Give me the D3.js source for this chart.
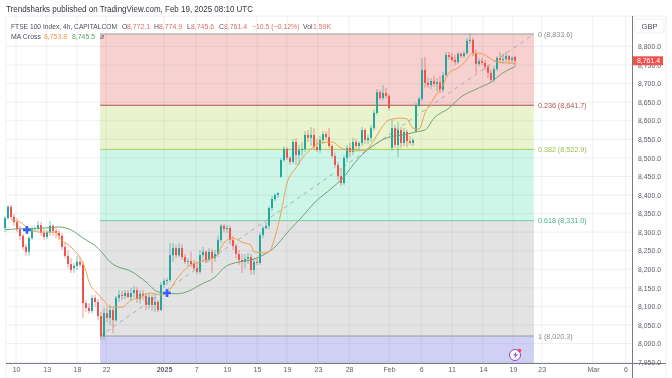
<!DOCTYPE html>
<html>
<head>
<meta charset="utf-8">
<script src="https://cdn.jsdelivr.net/npm/d3@7"></script>
<style>
  html, body { margin: 0; padding: 0; background: #fff; }
  text { font-family: "Liberation Sans", sans-serif; }
  svg { filter: blur(0.3px); }
</style>
</head>
<body>
<div id="chart"></div>
<script>
// FTSE 100 4h candles, one entry per bar
const opens = [8311,8338,8368,8341,8327,8308,8290,8260,8247,8284,8308,8311,8319,8298,8287,8300,8317,8303,8298,8290,
  8260,8236,8214,8203,8209,8220,8212,8109,8096,8088,8123,8112,8074,8020,8082,8069,8090,8063,8123,8131,
  8128,8136,8125,8136,8144,8120,8134,8128,8104,8125,8104,8112,8090,8158,8169,8171,8238,8257,8238,8257,
  8233,8220,8222,8214,8203,8193,8238,8247,8225,8247,8230,8241,8279,8317,8308,8311,8279,8263,8241,8225,
  8220,8228,8233,8198,8220,8217,8292,8311,8317,8365,8389,8400,8449,8494,8524,8500,8489,8543,8508,8521,
  8524,8562,8554,8562,8529,8521,8548,8564,8556,8532,8505,8481,8451,8432,8500,8527,8516,8543,8532,8540,
  8575,8548,8554,8580,8621,8677,8661,8675,8667,8527,8580,8535,8575,8540,8570,8545,8540,8572,8642,8659,
  8737,8702,8696,8707,8699,8704,8683,8723,8777,8772,8764,8758,8780,8774,8782,8815,8818,8782,8753,8761,
  8756,8745,8729,8710,8739,8769,8764,8766,8774,8764,8772];
const highs = [8343,8373,8373,8349,8338,8316,8295,8268,8290,8317,8317,8330,8327,8308,8306,8330,8322,8311,8306,8298,
  8271,8252,8230,8217,8236,8233,8222,8117,8109,8131,8131,8120,8085,8096,8098,8104,8096,8128,8144,8142,
  8144,8144,8150,8155,8152,8144,8144,8136,8134,8131,8136,8117,8166,8174,8177,8271,8271,8265,8271,8268,
  8241,8230,8247,8225,8220,8252,8260,8252,8257,8255,8252,8290,8322,8322,8319,8317,8290,8268,8252,8241,
  8241,8244,8241,8230,8228,8300,8317,8327,8370,8397,8405,8408,8500,8532,8529,8505,8551,8554,8535,8543,
  8572,8575,8583,8580,8551,8559,8572,8572,8580,8537,8513,8489,8473,8508,8535,8540,8554,8551,8545,8583,
  8580,8562,8589,8629,8685,8683,8696,8688,8672,8602,8589,8597,8583,8580,8575,8559,8554,8648,8664,8769,
  8772,8715,8715,8721,8715,8721,8731,8785,8785,8782,8777,8785,8785,8788,8823,8836,8823,8791,8769,8769,
  8764,8750,8737,8747,8774,8785,8780,8785,8777,8774,8775];
const lows = [8300,8333,8335,8317,8300,8279,8252,8236,8236,8279,8300,8303,8290,8279,8282,8290,8290,8284,8279,8252,
  8230,8203,8190,8190,8198,8206,8069,8085,8080,8082,8098,8063,8010,8010,8058,8050,8028,8058,8112,8117,
  8120,8123,8115,8125,8109,8107,8117,8090,8093,8088,8085,8085,8088,8150,8158,8166,8220,8230,8233,8225,
  8214,8209,8206,8198,8187,8187,8220,8217,8220,8190,8220,8233,8271,8300,8298,8268,8252,8230,8212,8190,
  8203,8214,8185,8185,8212,8212,8284,8306,8308,8357,8384,8392,8446,8489,8494,8481,8484,8481,8481,8505,
  8516,8543,8532,8521,8516,8513,8537,8548,8527,8500,8473,8440,8424,8427,8489,8502,8508,8521,8521,8532,
  8537,8537,8543,8575,8616,8656,8656,8661,8629,8519,8527,8502,8527,8532,8529,8535,8532,8567,8637,8653,
  8688,8688,8685,8691,8680,8675,8677,8718,8764,8758,8750,8753,8769,8769,8777,8807,8774,8729,8747,8750,
  8737,8715,8704,8704,8734,8758,8753,8758,8753,8756,8746];
const closes = [8338,8368,8341,8327,8308,8290,8260,8247,8284,8308,8311,8319,8298,8287,8300,8317,8303,8298,8290,8260,
  8236,8214,8198,8209,8220,8212,8109,8096,8088,8123,8112,8074,8020,8082,8069,8090,8063,8123,8131,8128,
  8136,8125,8136,8144,8120,8134,8128,8104,8125,8104,8112,8090,8158,8169,8171,8238,8257,8238,8257,8233,
  8220,8222,8214,8203,8193,8238,8247,8225,8247,8230,8241,8279,8317,8308,8311,8279,8263,8241,8225,8220,
  8228,8233,8198,8220,8217,8292,8311,8317,8365,8389,8400,8405,8494,8524,8500,8489,8543,8508,8521,8524,
  8562,8554,8562,8529,8521,8548,8564,8556,8532,8505,8481,8451,8432,8500,8527,8516,8543,8532,8540,8575,
  8548,8554,8580,8621,8677,8661,8675,8667,8634,8580,8535,8575,8540,8570,8545,8540,8548,8642,8659,8737,
  8702,8696,8707,8699,8704,8683,8723,8777,8772,8764,8758,8780,8774,8782,8815,8818,8782,8753,8761,8756,
  8745,8729,8710,8739,8769,8764,8766,8774,8764,8769,8761.4];

// MA Cross lines, read at these bar positions
const fastIdx = [2,5,8,12,17,18,22,25,27,28,31,33,35,39,42,45,48,52,54,57,62,65,70,73,76,79,82,83,86,88,90,92,94,97,100,102,105,109,112,114,117,120,123,125,128,132,134,136,138,140,143,146,148,151,153,156,158,161,164,167,170];
const fastMA = [8333,8327,8309,8300,8300,8287,8260,8231,8195,8166,8133,8115,8098,8098,8117,8125,8136,8131,8136,8171,8212,8220,8233,8271,8284,8273,8265,8247,8244,8247,8287,8352,8432,8473,8508,8524,8540,8543,8527,8521,8519,8521,8548,8575,8602,8607,8605,8580,8578,8621,8661,8696,8729,8742,8756,8782,8782,8772,8758,8756,8753.8];
const slowIdx = [0,5,8,13,18,22,26,31,35,43,47,51,54,57,62,65,70,73,78,82,86,90,94,99,103,109,113,116,120,124,128,133,137,140,143,148,152,157,162,166,170];
const slowMA = [8306,8309,8309,8311,8314,8306,8284,8257,8220,8190,8166,8139,8136,8134,8144,8158,8179,8204,8220,8225,8238,8260,8298,8341,8378,8419,8449,8481,8516,8540,8556,8562,8570,8575,8607,8634,8664,8685,8704,8729,8745.5];
const crossIdx = [7.3, 54];
const crossVal = [8306, 8136];

// Fibonacci retracement
const fibRatios = [0, 0.236, 0.382, 0.618, 1];
const fibPrices = [8833.6, 8641.7, 8522.9, 8331.0, 8020.3];
const fibLabels = ["0 (8,833.6)", "0.236 (8,641.7)", "0.382 (8,522.9)", "0.618 (8,331.0)", "1 (8,020.3)"];
const fibLine = ["#9a9a9a", "#b3524e", "#a6cf55", "#6fcfa3", "#9a9a9a"];
const fibText = ["#8c8c8c", "#b3524e", "#9dbb49", "#4cae86", "#8c8c8c"];
const fibFill = ["#f7d0d0", "#e9f4cf", "#cdf6e8", "#e3e3e3", "#cfd0f3"];
const fibFrom = 31.7, fibTo = 176.3;

// axis ticks
const timeIdx = [3.7,13.9,24,33.7,53,63.7,74,84,94,104.3,114.7,128,138.7,148.9,159.3,169.3,178.9,196,206.8];
const timeLabels = ["10","13","18","22","2025","7","10","15","19","23","28","Feb","6","11","14","19","23","Mar","6"];
const priceTicks = d3.range(7950, 8801, 50);
const lastPrice = 8761.4;

const width = 672, height = 378;
const plotLeft = 6, plotRight = 632, plotTop = 16, plotBottom = 363, frameRight = 666;

const svg = d3.select("#chart").append("svg")
  .attr("width", width)
  .attr("height", height)
  .style("display", "block");

const x = d3.scaleLinear().domain([0, 170]).range([5, 515]);
const y = d3.scaleLinear().domain([8833.6, 8020.3]).range([34, 336]);
const fmt = d3.format(",.1f");

// frame
svg.append("path")
  .attr("d", `M${plotLeft},${height}V${plotTop}H${frameRight}V${height}`)
  .attr("fill", "none")
  .attr("stroke", "#eceef2");

// fib bands, the last one runs to the bottom of the pane
const bands = svg.append("g");
fibFill.forEach((c, i) => {
  const top = y(fibPrices[i]);
  const bottom = i < 4 ? y(fibPrices[i + 1]) : plotBottom;
  bands.append("rect")
    .attr("x", x(fibFrom))
    .attr("y", top)
    .attr("width", x(fibTo) - x(fibFrom))
    .attr("height", bottom - top)
    .attr("fill", c);
});

// grid goes on top of the bands, faintly
const grid = svg.append("g").attr("stroke", "#8a94a8").attr("stroke-opacity", 0.14);
timeIdx.forEach(t => {
  grid.append("line").attr("x1", x(t)).attr("x2", x(t)).attr("y1", plotTop).attr("y2", plotBottom);
});
priceTicks.forEach(p => {
  grid.append("line").attr("x1", plotLeft).attr("x2", plotRight).attr("y1", y(p)).attr("y2", y(p));
});

// fib lines and labels
fibPrices.forEach((p, i) => {
  svg.append("line")
    .attr("x1", x(fibFrom)).attr("x2", x(fibTo))
    .attr("y1", y(p)).attr("y2", y(p))
    .attr("stroke", fibLine[i]);
  svg.append("text")
    .attr("x", x(fibTo) + 4)
    .attr("y", y(p) + 2.5)
    .attr("font-size", 7.2)
    .attr("fill", fibText[i])
    .text(fibLabels[i]);
});

// dashed trend line of the fib
svg.append("line")
  .attr("x1", x(fibFrom)).attr("y1", y(8020.3))
  .attr("x2", x(fibTo)).attr("y2", y(8833.6))
  .attr("stroke", "#a9adb3")
  .attr("stroke-dasharray", "4 4");

// candles
const upCol = "#26a69a", downCol = "#ef5350";
const bars = d3.range(opens.length);
const col = i => closes[i] >= opens[i] ? upCol : downCol;

svg.append("g").selectAll("line")
  .data(bars)
  .join("line")
    .attr("x1", i => x(i))
    .attr("x2", i => x(i))
    .attr("y1", i => y(highs[i]))
    .attr("y2", i => y(lows[i]))
    .attr("stroke", col)
    .attr("stroke-opacity", 0.6);

svg.append("g").selectAll("rect")
  .data(bars)
  .join("rect")
    .attr("x", i => x(i) - 1)
    .attr("width", 2)
    .attr("y", i => Math.min(y(opens[i]), y(closes[i])))
    .attr("height", i => Math.max(1, Math.abs(y(opens[i]) - y(closes[i]))))
    .attr("fill", col);

// moving averages
const maLine = d3.line()
  .x(d => x(d[0]))
  .y(d => y(d[1]))
  .curve(d3.curveMonotoneX);

svg.append("path")
  .attr("d", maLine(d3.zip(slowIdx, slowMA)))
  .attr("fill", "none")
  .attr("stroke", "#6fa574")
  .attr("stroke-width", 1);
svg.append("path")
  .attr("d", maLine(d3.zip(fastIdx, fastMA)))
  .attr("fill", "none")
  .attr("stroke", "#f0a050")
  .attr("stroke-width", 1);

// crosses of the two averages
svg.append("g").selectAll("path")
  .data(d3.zip(crossIdx, crossVal))
  .join("path")
    .attr("d", d3.symbol().type(d3.symbolCross).size(34))
    .attr("transform", d => `translate(${x(d[0])},${y(d[1])})`)
    .attr("fill", "#2962ff");

// time axis
const timeAxis = d3.axisBottom(x)
  .tickValues(timeIdx)
  .tickFormat((d, i) => timeLabels[i])
  .tickSize(0)
  .tickPadding(4);
const xg = svg.append("g")
  .attr("transform", `translate(0,${plotBottom})`)
  .call(timeAxis);
xg.select(".domain").remove();
xg.selectAll("text")
  .attr("font-size", 7)
  .attr("fill", "#5d606b")
  .attr("font-weight", (d, i) => timeLabels[i] === "2025" ? "bold" : "normal");
svg.append("line")
  .attr("x1", plotLeft).attr("x2", frameRight)
  .attr("y1", plotBottom + 0.5).attr("y2", plotBottom + 0.5)
  .attr("stroke", "#787b86");

// price axis
const priceAxis = d3.axisRight(y)
  .tickValues(priceTicks)
  .tickFormat(fmt)
  .tickSize(0)
  .tickPadding(6);
const yg = svg.append("g")
  .attr("transform", `translate(${plotRight},0)`)
  .call(priceAxis);
yg.select(".domain").remove();
yg.selectAll("text")
  .attr("font-size", 6.9)
  .attr("fill", "#5d606b");
svg.append("line")
  .attr("x1", plotRight + 0.5).attr("x2", plotRight + 0.5)
  .attr("y1", plotTop).attr("y2", height)
  .attr("stroke", "#787b86");

// currency box
svg.append("rect")
  .attr("x", 635).attr("y", 19).attr("width", 29).attr("height", 14)
  .attr("fill", "#fff").attr("stroke", "#eceef2").attr("rx", 2);
svg.append("text")
  .attr("x", 649.5).attr("y", 29)
  .attr("text-anchor", "middle")
  .attr("font-size", 7.5)
  .attr("fill", "#4a4d57")
  .text("GBP");

// last price tag
svg.append("rect")
  .attr("x", plotRight + 1).attr("y", y(lastPrice) - 4.5)
  .attr("width", 30).attr("height", 9)
  .attr("fill", "#ef5350");
svg.append("text")
  .attr("x", plotRight + 5).attr("y", y(lastPrice) + 2.5)
  .attr("font-size", 6.9)
  .attr("fill", "#fff")
  .text(fmt(lastPrice));

// header
svg.append("text")
  .attr("x", 6).attr("y", 12)
  .attr("font-size", 8.5)
  .attr("font-family", "Roboto, sans-serif")
  .attr("font-weight", 500)
  .attr("fill", "#33363f")
  .attr("textLength", 247)
  .attr("lengthAdjust", "spacingAndGlyphs")
  .text("Trendsharks published on TradingView.com, Feb 19, 2025 08:10 UTC");

const legendRows = [
  [[11, "FTSE 100 Index, 4h, CAPITALCOM", "#4a4d57", 106],
   [122, "O", "#4a4d57"], [127, "8,772.1", "#d9706d"],
   [154, "H", "#4a4d57"], [159, "8,774.9", "#d9706d"],
   [187, "L", "#4a4d57"], [191, "8,745.6", "#d9706d"],
   [219, "C", "#4a4d57"], [224, "8,761.4", "#d9706d"],
   [252, "\u221210.5 (\u22120.12%)", "#d9706d"],
   [303, "Vol", "#4a4d57"], [313, "1.59K", "#d9706d"]],
  [[11, "MA Cross", "#4a4d57"],
   [44, "8,753.8", "#ef9a45"],
   [72, "8,745.5", "#5f9c63"],
   [100, "\u00f8", "#6a6d78"]]
];
legendRows.forEach((row, r) => {
  row.forEach(d => {
    const t = svg.append("text")
      .attr("x", d[0]).attr("y", 28.5 + r * 10)
      .attr("font-size", 6.9)
      .attr("fill", d[2])
      .text(d[1]);
    if (d[3]) t.attr("textLength", d[3]).attr("lengthAdjust", "spacingAndGlyphs");
  });
});

// lightning badge
svg.append("circle")
  .attr("cx", 515).attr("cy", 355).attr("r", 5.5)
  .attr("fill", "#fff").attr("stroke", "#8e44c9").attr("stroke-width", 1);
svg.append("path")
  .attr("d", "M516.5,351.5L513,355.5H515.5L514,358.5L518,354.5H515.5Z")
  .attr("fill", "#8e44c9");
svg.append("circle")
  .attr("cx", 519.5).attr("cy", 350.5).attr("r", 1.8)
  .attr("fill", "#f0405e");
</script>
</body>
</html>
